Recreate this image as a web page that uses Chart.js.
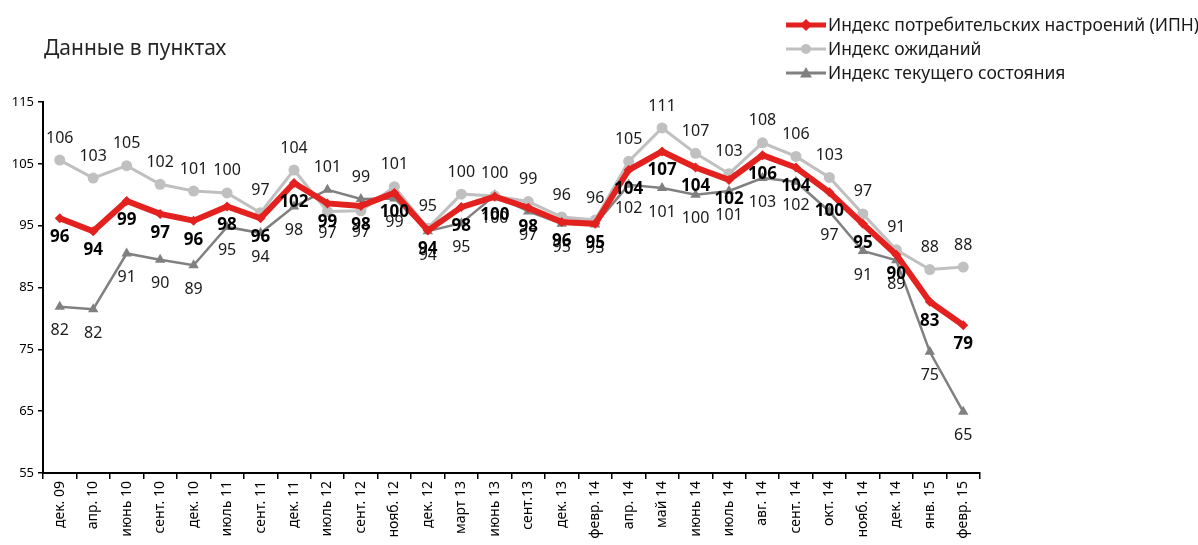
<!DOCTYPE html>
<html>
<head>
<meta charset="utf-8">
<script src="https://cdn.jsdelivr.net/npm/chart.js@4.4.1/dist/chart.umd.min.js"></script>
<style>
  html, body { margin: 0; padding: 0; background: #fff; }
  #wrap { width: 1198px; height: 545px; position: relative; }
</style>
</head>
<body>
<div id="wrap"><canvas id="chart"></canvas></div>
<script>
// Data (points)
const categories = ['дек. 09', 'апр. 10', 'июнь 10', 'сент. 10', 'дек. 10', 'июль 11', 'сент. 11', 'дек. 11',
  'июль 12', 'сент. 12', 'нояб. 12', 'дек. 12', 'март 13', 'июнь 13', 'сент.13', 'дек. 13', 'февр. 14',
  'апр. 14', 'май 14', 'июнь 14', 'июль 14', 'авг. 14', 'сент. 14', 'окт. 14', 'нояб. 14', 'дек. 14',
  'янв. 15', 'февр. 15'];
const ipnValues = [96.2, 94.1, 99.0, 96.9, 95.8, 98.1, 96.2, 101.9, 98.6, 98.2, 100.3, 94.2, 98.0, 99.7,
  97.9, 95.6, 95.3, 104.0, 107.0, 104.4, 102.4, 106.4, 104.4, 100.4, 95.3, 90.3, 82.7, 78.9];
const expectValues = [105.6, 102.7, 104.7, 101.7, 100.6, 100.3, 97.1, 104.0, 97.3, 97.4, 101.3, 94.6, 100.1, 99.8,
  98.9, 96.4, 95.9, 105.4, 110.8, 106.7, 103.4, 108.4, 106.2, 102.8, 96.9, 91.1, 87.9, 88.3];
const currentValues = [81.9, 81.5, 90.5, 89.5, 88.6, 94.8, 93.8, 98.1, 100.8, 99.3, 99.4, 94.1, 95.4, 99.9,
  97.3, 95.3, 95.2, 101.6, 101.1, 100.0, 100.6, 102.7, 102.1, 97.3, 90.9, 89.4, 74.6, 64.9];
const yMin = 55, yMax = 115, yStep = 10;

const seriesNames = ['Индекс потребительских настроений (ИПН)', 'Индекс ожиданий', 'Индекс текущего состояния'];
const RED = '#e3211f', LIGHT = '#c0c0c0', DARK = '#808080';
const FONT = '"Noto Sans", "Open Sans", sans-serif';

function drawMarker(ctx, style, x, y, r, color) {
  ctx.save();
  ctx.fillStyle = color;
  ctx.beginPath();
  if (style === 'rectRot') {
    ctx.moveTo(x, y - r); ctx.lineTo(x + r, y); ctx.lineTo(x, y + r); ctx.lineTo(x - r, y);
  } else if (style === 'circle') {
    ctx.arc(x, y, r, 0, Math.PI * 2);
  } else {
    ctx.moveTo(x, y - r); ctx.lineTo(x + r, y + r * 0.75); ctx.lineTo(x - r, y + r * 0.75);
  }
  ctx.closePath();
  ctx.fill();
  ctx.restore();
}

// value labels, title and legend
const decorPlugin = {
  id: 'decor',
  afterDatasetsDraw(chart) {
    const ctx = chart.ctx;
    ctx.save();
    ctx.textAlign = 'center';
    ctx.textBaseline = 'middle';
    const red = chart.getDatasetMeta(0).data;
    const light = chart.getDatasetMeta(1).data;
    const dark = chart.getDatasetMeta(2).data;
    categories.forEach((c, i) => {
      ctx.fillStyle = '#1a1a1a';
      ctx.font = '16px ' + FONT;
      const lAbove = expectValues[i] >= currentValues[i];
      ctx.fillText(Math.round(expectValues[i]), light[i].x, light[i].y + (lAbove ? -22 : 22));
      ctx.fillText(Math.round(currentValues[i]), dark[i].x, dark[i].y + (lAbove ? 24 : -22));
      ctx.fillStyle = '#000';
      ctx.font = 'bold 17px ' + FONT;
      ctx.fillText(Math.round(ipnValues[i]), red[i].x, red[i].y + 19);
    });
    ctx.restore();
  },
  afterDraw(chart) {
    const ctx = chart.ctx;
    ctx.save();
    ctx.textBaseline = 'middle';
    ctx.fillStyle = '#262626';
    ctx.font = '21px ' + FONT;
    ctx.fillText('Данные в пунктах', 44, 49);

    const items = [
      { color: RED, width: 5, style: 'rectRot', r: 6 },
      { color: LIGHT, width: 3, style: 'circle', r: 5 },
      { color: DARK, width: 3, style: 'triangle', r: 6 }
    ];
    items.forEach((it, k) => {
      const y = 25 + k * 24;
      ctx.strokeStyle = it.color;
      ctx.lineWidth = it.width;
      ctx.beginPath();
      ctx.moveTo(786, y);
      ctx.lineTo(826, y);
      ctx.stroke();
      drawMarker(ctx, it.style, 806, y, it.r, it.color);
      ctx.fillStyle = '#1a1a1a';
      ctx.font = '17.5px ' + FONT;
      ctx.fillText(seriesNames[k], 828, y + 1);
    });
    ctx.restore();
  }
};

new Chart(document.getElementById('chart'), {
  type: 'line',
  data: {
    labels: categories,
    datasets: [
      { label: seriesNames[0], data: ipnValues, borderColor: RED, backgroundColor: RED, borderWidth: 6,
        pointStyle: 'rectRot', pointRadius: 5, pointBorderWidth: 0, tension: 0 },
      { label: seriesNames[1], data: expectValues, borderColor: LIGHT, backgroundColor: LIGHT, borderWidth: 3,
        pointStyle: 'circle', pointRadius: 5.5, pointBorderWidth: 0, tension: 0 },
      { label: seriesNames[2], data: currentValues, borderColor: DARK, backgroundColor: DARK, borderWidth: 2.5,
        pointStyle: 'triangle', pointRadius: 6, pointBorderWidth: 0, tension: 0 }
    ]
  },
  options: {
    responsive: true,
    maintainAspectRatio: false,
    animation: false,
    devicePixelRatio: 1,
    layout: { padding: { top: 102, right: 218, bottom: 0, left: 0 } },
    plugins: { legend: { display: false }, tooltip: { enabled: false } },
    scales: {
      x: {
        offset: true,
        grid: { drawOnChartArea: false, drawTicks: true, tickLength: 6, offset: true, color: '#000', lineWidth: 1.5 },
        border: { display: true, color: '#000', width: 2 },
        ticks: { autoSkip: false, minRotation: 90, maxRotation: 90, padding: 2, color: '#000',
          font: { family: FONT, size: 14 } },
        afterFit: s => { s.height = 72; }
      },
      y: {
        min: yMin, max: yMax,
        grid: { drawOnChartArea: false, drawTicks: true, tickLength: 5, color: '#000', lineWidth: 1.5 },
        border: { display: true, color: '#000', width: 2 },
        ticks: { stepSize: yStep, padding: 4, color: '#000', font: { family: FONT, size: 13 } },
        afterFit: s => { s.width = 43; }
      }
    }
  },
  plugins: [decorPlugin]
});
</script>
</body>
</html>
